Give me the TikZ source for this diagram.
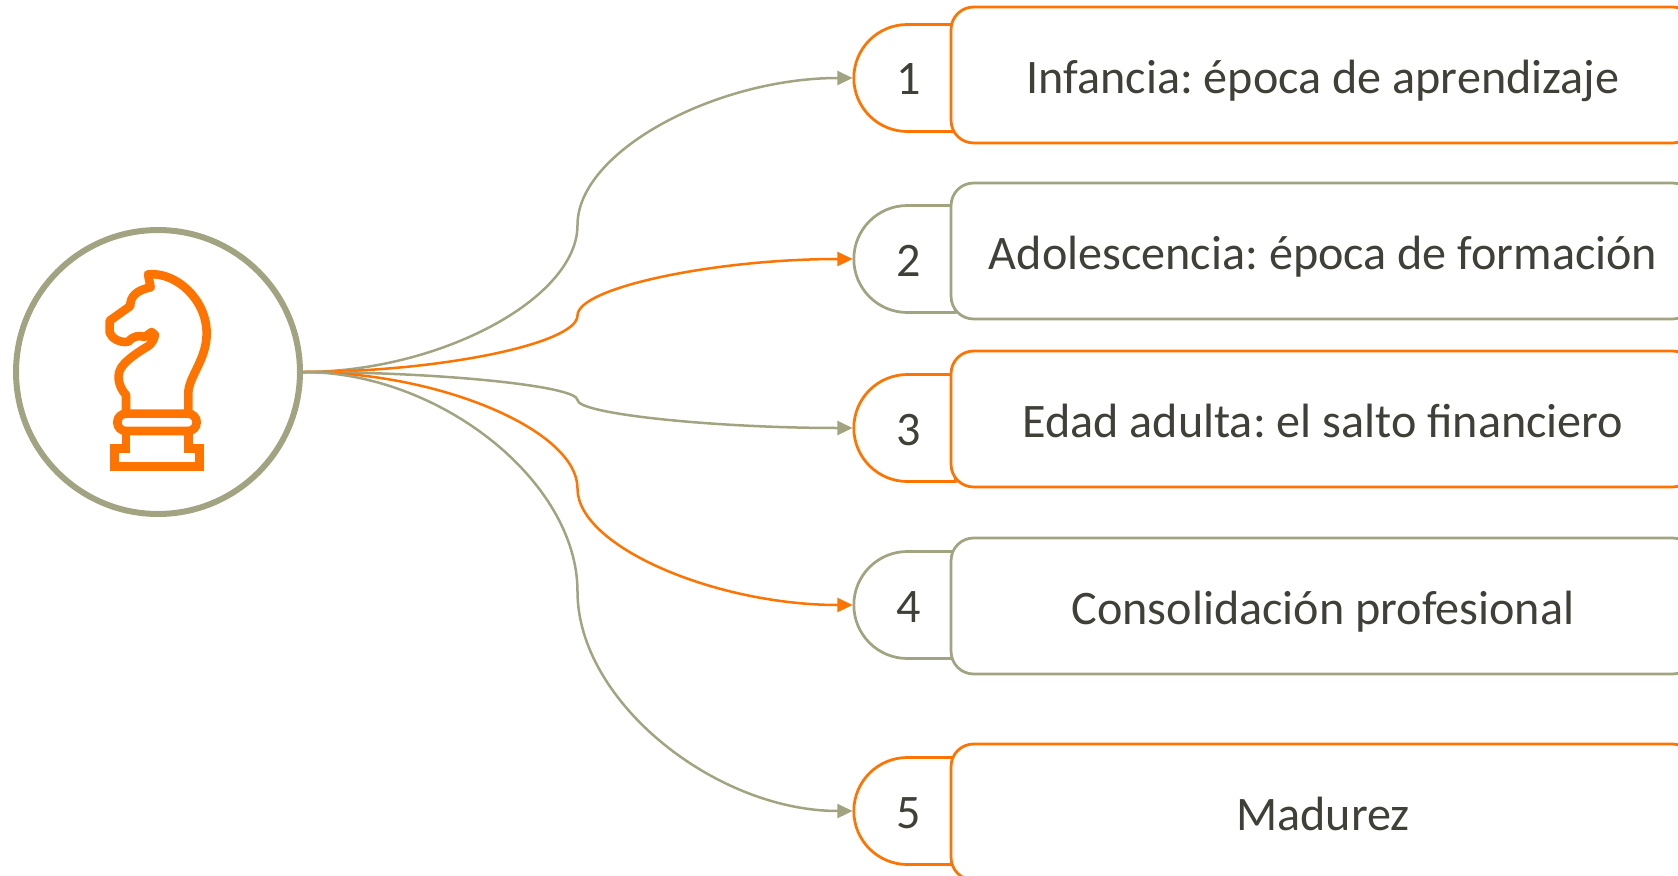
\documentclass[tikz,border=0pt]{standalone}
\usepackage{fontspec}
\setmainfont{Carlito}
\usepackage{tikz}
\usetikzlibrary{arrows.meta,shapes.misc}
\definecolor{naranja}{HTML}{FF7400}
\definecolor{oliva}{HTML}{A2A381}
\definecolor{texto}{HTML}{404038}
\tikzset{
    capsule/.style={shape=rounded rectangle,rounded rectangle right arc=none,draw=#1,line width=0.055cm,anchor=east,
        minimum width=1.7cm,minimum height=2.14cm,inner sep=0pt,text=texto,font=\frenchspacing\fontsize{27.4}{32}\selectfont,
        text height=0.82cm,text depth=0.14cm},
    etapa/.style={shape=rectangle,rounded corners=0.45cm,draw=#1,fill=white,line width=0.055cm,
        minimum width=14.88cm,minimum height=2.72cm,inner sep=0pt,text=texto,font=\frenchspacing\fontsize{27.4}{32}\selectfont,
        text height=0.88cm,text depth=0.14cm},
    enlace/.style={draw=#1,line width=0.05cm,-{Triangle[length=0.3cm,width=0.28cm]}},
    caballo/.style={draw=naranja,line width=0.172cm}
}
\begin{document}
\begin{tikzpicture}[x=0.02cm,y=-0.02cm]
    \useasboundingbox (0,0) rectangle (1678,876);
    \node[shape=circle,draw=oliva,line width=0.12cm,minimum size=5.68cm,inner sep=0pt] (hub) at (158,372) {};
    \node[capsule=naranja] (n1) at (956.5,78) {\kern0.07cm 1};
    \node[capsule=oliva] (n2) at (956.5,259) {\kern0.07cm 2};
    \node[capsule=naranja] (n3) at (956.5,428) {\kern0.07cm 3};
    \node[capsule=oliva] (n4) at (956.5,605) {\kern0.07cm 4};
    \node[capsule=naranja] (n5) at (956.5,811) {\kern0.07cm 5};
    \node[etapa=naranja] (e1) at (1323,75) {Infancia: época de aprendizaje};
    \node[etapa=oliva] (e2) at (1323,251) {Adolescencia: época de formación};
    \node[etapa=naranja] (e3) at (1323,419) {Edad adulta: el salto financiero};
    \node[etapa=oliva] (e4) at (1323,606) {Consolidación profesional};
    \node[etapa=naranja] (e5) at (1323,812) {Madurez};
    \coordinate (m1) at (577.5,225);
    \coordinate (m2) at (577.5,315.5);
    \coordinate (m3) at (577.5,400);
    \coordinate (m4) at (577.5,488.5);
    \coordinate (m5) at (577.5,591.5);
    \draw [enlace=oliva] (hub.east) .. controls +(137,0) and +(0,73.5) .. (m1) .. controls +(0,-73.5) and +(-137,0) .. (n1.west);
    \draw [enlace=naranja] (hub.east) .. controls +(137,0) and +(0,28) .. (m2) .. controls +(0,-28) and +(-137,0) .. (n2.west);
    \draw [enlace=oliva] (hub.east) .. controls +(137,0) and +(0,-14) .. (m3) .. controls +(0,14) and +(-137,0) .. (n3.west);
    \draw [enlace=naranja] (hub.east) .. controls +(137,0) and +(0,-58) .. (m4) .. controls +(0,58) and +(-137,0) .. (n4.west);
    \draw [enlace=oliva] (hub.east) .. controls +(137,0) and +(0,-110) .. (m5) .. controls +(0,110) and +(-137,0) .. (n5.west);
    \begin{scope}[shift={(0,210)},scale=1/3]
        \draw [caballo,line join=round] (378,600) -- (378,555) .. controls (355,530) and (345,490) .. (372,462) .. controls (395,438) and (425,420) .. (445,408) .. controls (456,400) and (462,388) .. (465,375) -- (455,366) -- (434,381) .. controls (415,375) and (400,378) .. (385,395) .. controls (360,400) and (335,385) .. (329,368) -- (329,332) -- (391,288) .. controls (390,260) and (410,240) .. (452,232) -- (444,193) .. controls (530,185) and (620,270) .. (620,370) .. controls (620,450) and (565,500) .. (565,550) -- (565,600);
        \draw [caballo,rounded corners=0.17cm] (352,611) rectangle (590,663);
        \draw [caballo] (378,670) -- (378,716) -- (343,716) -- (343,770) -- (598,770) -- (598,716) -- (565,716) -- (565,670);
    \end{scope}
\end{tikzpicture}
\end{document}
